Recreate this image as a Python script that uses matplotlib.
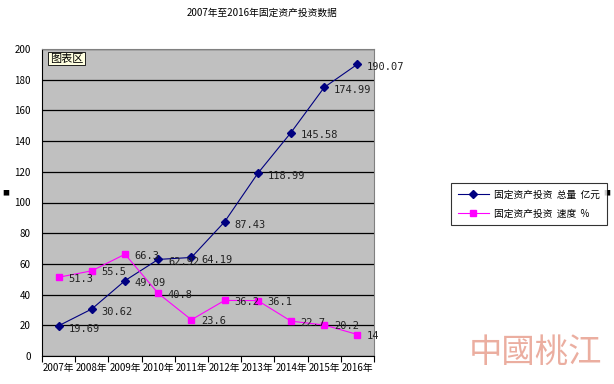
import matplotlib.pyplot as plt
import numpy as np

plt.rcParams['font.family'] = ['Noto Sans CJK SC', 'DejaVu Sans']

years = ["2007年", "2008年", "2009年", "2010年", "2011年",
         "2012年", "2013年", "2014年", "2015年", "2016年"]
total = [19.69, 30.62, 49.09, 62.92, 64.19, 87.43, 118.99, 145.58, 174.99, 190.07]
speed = [51.3, 55.5, 66.3, 40.8, 23.6, 36.2, 36.1, 22.7, 20.2, 14]
total_lbl = ["19.69", "30.62", "49.09", "62.92", "64.19", "87.43", "118.99", "145.58", "174.99", "190.07"]
speed_lbl = ["51.3", "55.5", "66.3", "40.8", "23.6", "36.2", "36.1", "22.7", "20.2", "14"]

fig = plt.figure(figsize=(6.14, 3.84), dpi=100)
ax = fig.add_axes([42/614, 1-356/384, 332/614, 307/384])
ax.set_facecolor("#C0C0C0")

x = np.arange(len(years))
ax.plot(x, total, color="#000080", marker="D", markersize=4, linewidth=0.8,
        label="固定资产投资  总量  亿元")
ax.plot(x, speed, color="#FF00FF", marker="s", markersize=5, linewidth=0.8,
        label="固定资产投资  速度  %")

mono = ['DejaVu Sans Mono', 'Noto Sans CJK SC']
for i in range(len(x)):
    ax.annotate(total_lbl[i], (x[i], total[i]), xytext=(7, -2), textcoords="offset points",
                fontsize=7.5, family=mono, va="center", color="#222222")
    ax.annotate(speed_lbl[i], (x[i], speed[i]), xytext=(7, -1), textcoords="offset points",
                fontsize=7.5, family=mono, va="center", color="#222222")

ax.set_xlim(-0.5, len(years) - 0.5)
ax.set_ylim(0, 200)
ax.set_yticks(range(0, 201, 20))
ax.yaxis.grid(True, color="black", linewidth=0.9)
ax.set_axisbelow(True)
ax.tick_params(axis="y", length=0, labelsize=7, pad=8)

ax.set_xticks(np.arange(-0.5, len(years) + 0.5, 1))
ax.set_xticklabels([])
ax.set_xticks(x, minor=True)
ax.set_xticklabels(years, minor=True, fontsize=7)
ax.tick_params(axis="x", which="major", length=4, direction="out")
ax.tick_params(axis="x", which="minor", length=0, pad=5)

for s in ["top", "right"]:
    ax.spines[s].set_color("#808080")
for s in ["left", "bottom"]:
    ax.spines[s].set_color("black")

ax.text(0.023, 0.985, "图表区", transform=ax.transAxes, fontsize=8, va="top", ha="left",
        bbox=dict(boxstyle="square,pad=0.15", facecolor="#FFFFE0", edgecolor="black", linewidth=0.6))

fig.text(262/614, 1-13/384, "2007年至2016年固定资产投资数据", ha="center", va="center", fontsize=7)

leg = fig.legend(loc="upper left", bbox_to_anchor=(451/614, 1-183/384), fontsize=7,
                 frameon=True, fancybox=False, edgecolor="black", handlelength=3.2,
                 borderpad=0.7, labelspacing=0.9, borderaxespad=0, handletextpad=0.5)
leg.get_frame().set_linewidth(0.8)

fig.text(2/614, 1-193/384, "■", fontsize=5, va="center", ha="left")
fig.text(610/614, 1-193/384, "■", fontsize=5, va="center", ha="right")

fig.text(536/614, 1-352/384, "中國桃江", family=['Noto Sans CJK TC', 'DejaVu Sans'],
         fontsize=24, fontweight="light", color="#E8A090", ha="center", va="center", alpha=0.85)

plt.savefig("out.png", dpi=100)
